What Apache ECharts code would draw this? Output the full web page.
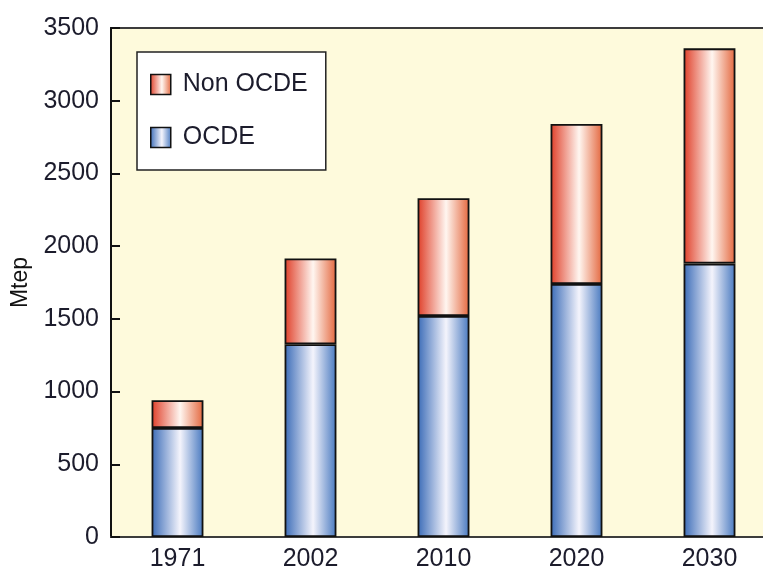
<!DOCTYPE html>
<html>
<head>
<meta charset="utf-8">
<script src="https://cdn.jsdelivr.net/npm/echarts@6/dist/echarts.min.js"></script>
<style>
html, body { margin: 0; padding: 0; background: #fff; }
#ec1 { width: 763px; height: 572px; }
</style>
</head>
<body>
<div id="ec1"></div>
<script>
var years = ['1971', '2002', '2010', '2020', '2030'];
var ocde = [750, 1325, 1520, 1740, 1880];
var nonOcde = [190, 590, 810, 1100, 1480];
var yTicks = [0, 500, 1000, 1500, 2000, 2500, 3000, 3500];

var FONT = '"Liberation Sans", Arial, sans-serif';
var TXT = '#1c1c2c';

function grad(edgeL, mid, edgeR){
	return new echarts.graphic.LinearGradient(0, 0, 1, 0, [
		{offset: 0, color: edgeL},
		{offset: 0.55, color: mid},
		{offset: 1, color: edgeR}
	]);
}

var blueFill = grad('#3a6bb7', '#f4f4fc', '#4778bf');
var redFill = grad('#df3e28', '#fff6f0', '#e3663d');

var myCharts = echarts.init(document.getElementById('ec1'));
var option = {
	animation: false,
	textStyle: { fontFamily: FONT },
	grid: {
		left: 111,
		top: 28,
		width: 665,
		height: 509,
		outerBoundsMode: 'none',
		show: true,
		backgroundColor: '#fefadc',
		borderColor: '#3c3c3c',
		borderWidth: 2
	},
	legend: {
		orient: 'vertical',
		left: 137,
		top: 52,
		icon: 'rect',
		data: ['Non OCDE', 'OCDE'],
		backgroundColor: '#fff',
		borderColor: '#222',
		borderWidth: 1.5,
		borderRadius: 0,
		padding: [20, 18, 20, 13],
		itemWidth: 20,
		itemHeight: 20,
		itemGap: 28,
		itemStyle: { borderColor: '#111', borderWidth: 1.5 },
		textStyle: { fontSize: 25, color: TXT, fontFamily: FONT, padding: [0, 0, 0, 7] }
	},
	xAxis: {
		type: 'category',
		data: years,
		axisLine: { lineStyle: { color: '#3c3c3c', width: 2 } },
		axisTick: { show: false },
		axisLabel: { fontSize: 25, color: TXT, margin: 10 }
	},
	yAxis: {
		type: 'value',
		min: 0,
		max: 3500,
		interval: 500,
		name: 'Mtep',
		nameLocation: 'middle',
		nameGap: 76,
		nameTextStyle: { fontSize: 23, color: '#111', fontFamily: FONT },
		splitLine: { show: false },
		axisLine: { show: true, lineStyle: { color: '#111', width: 2 } },
		axisTick: { show: true, inside: true, length: 9, lineStyle: { color: '#111', width: 2 } },
		axisLabel: {
			fontSize: 25, color: TXT, margin: 12,
			formatter: function(v){ return yTicks.indexOf(v) >= 0 ? String(v) : ''; }
		}
	},
	series: [
		{
			name: 'OCDE',
			type: 'bar',
			stack: 'total',
			barWidth: '39%',
			data: ocde,
			itemStyle: { color: blueFill, borderColor: '#111', borderWidth: 1.8 }
		},
		{
			name: 'Non OCDE',
			type: 'bar',
			stack: 'total',
			barWidth: '39%',
			data: nonOcde,
			itemStyle: { color: redFill, borderColor: '#111', borderWidth: 1.8 }
		}
	]
};
myCharts.setOption(option);
</script>
</body>
</html>
